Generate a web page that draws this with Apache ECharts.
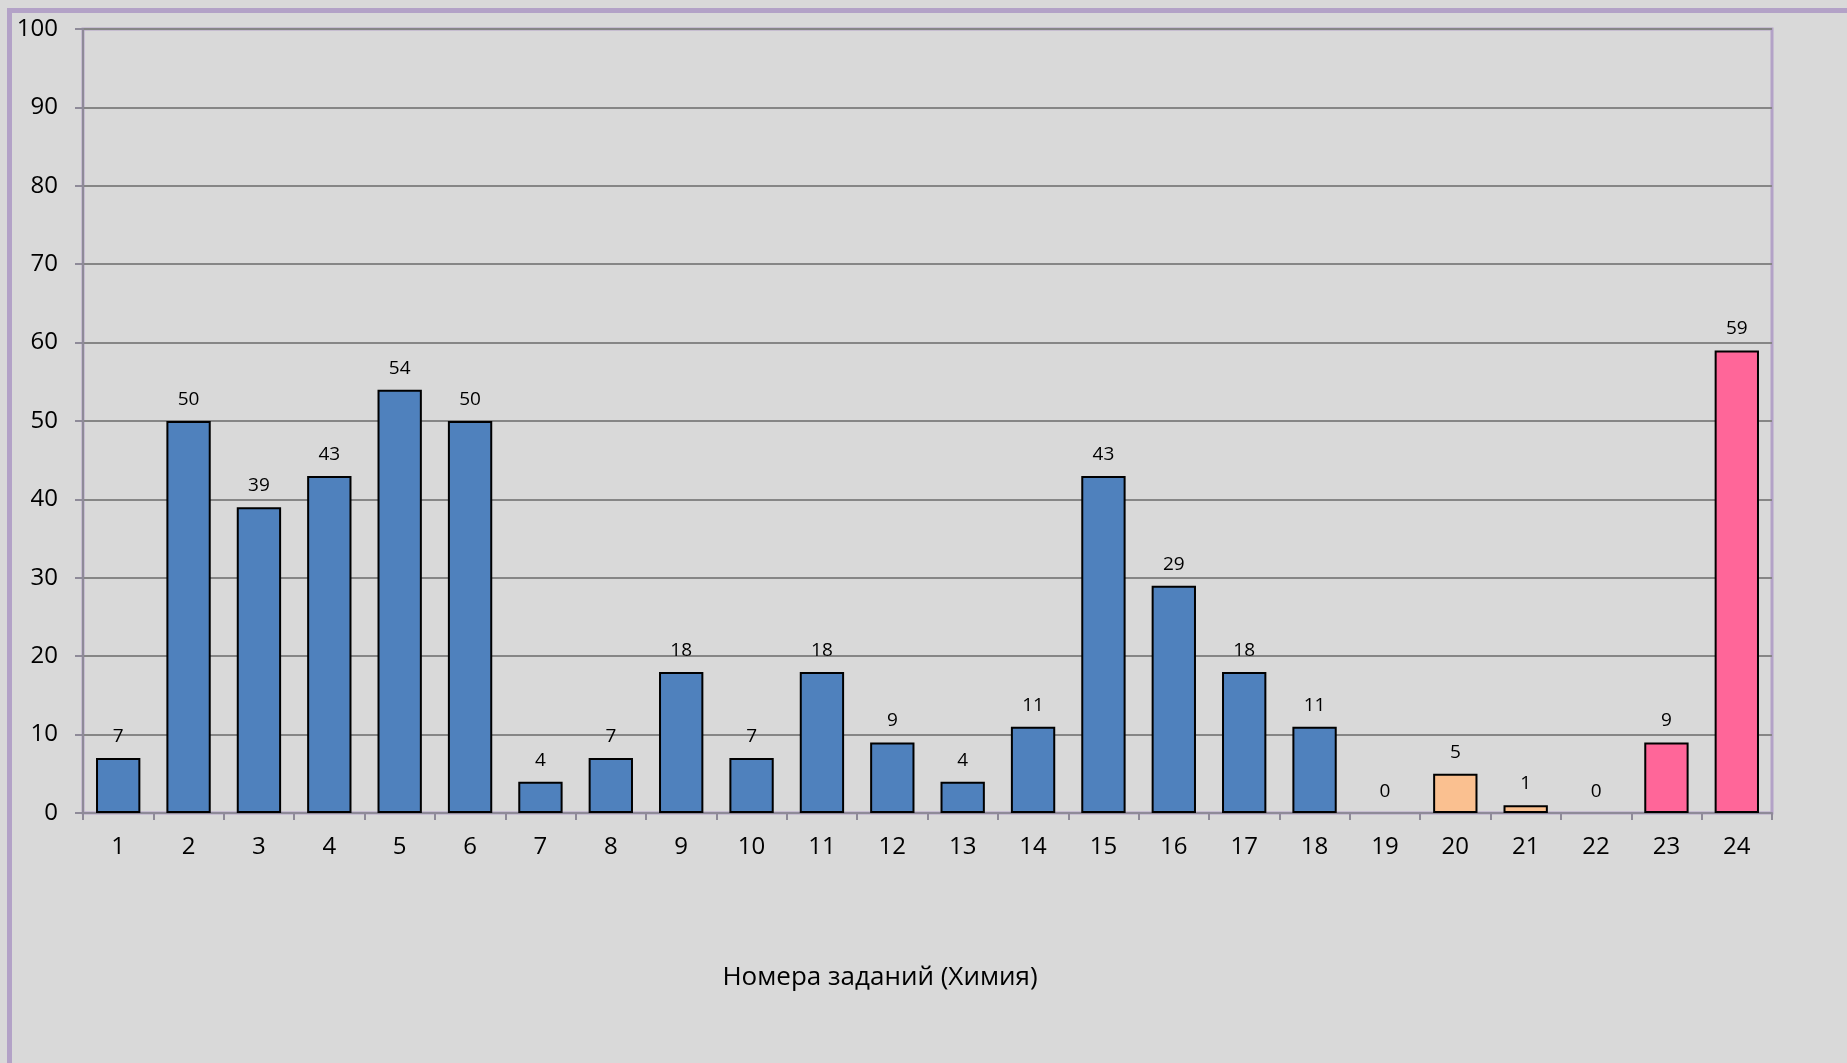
<!DOCTYPE html>
<html>
<head>
<meta charset="utf-8">
<script src="https://cdn.jsdelivr.net/npm/echarts@6/dist/echarts.min.js"></script>
<style>
  html, body { margin: 0; padding: 0; background: #D9D9D9; }
  #chart { width: 1847px; height: 1063px; }
</style>
</head>
<body>
<div id="chart"></div>
<script>
// Task numbers along the x axis
const tasks = ['1','2','3','4','5','6','7','8','9','10','11','12','13','14','15','16','17','18','19','20','21','22','23','24'];
// Share of correct answers per task, %
const scores = [7, 50, 39, 43, 54, 50, 4, 7, 18, 7, 18, 9, 4, 11, 43, 29, 18, 11, 0, 5, 1, 0, 9, 59];
// Difficulty level of each task
const levels = ['basic','basic','basic','basic','basic','basic','basic','basic','basic','basic','basic','basic','basic','basic','basic','basic','basic','basic','advanced','advanced','advanced','advanced','high','high'];
const yTicks = [0, 10, 20, 30, 40, 50, 60, 70, 80, 90, 100];
const axisTitle = 'Номера заданий (Химия)';

const levelColors = { basic: '#4F81BD', advanced: '#FAC090', high: '#FF6699' };
const font = '"Open Sans", "Noto Sans", sans-serif';

const chart = echarts.init(document.getElementById('chart'), null, { renderer: 'canvas' });

chart.setOption({
  backgroundColor: '#D9D9D9',
  animation: false,
  graphic: [
    // outer frame: top and left edges
    { type: 'rect', left: 7, top: 8, shape: { width: 1840, height: 5 }, style: { fill: '#B3A2C7' }, z: 10 },
    { type: 'rect', left: 7, top: 8, shape: { width: 5, height: 1055 }, style: { fill: '#B3A2C7' }, z: 10 },
    // horizontal axis title
    {
      type: 'text', x: 880, y: 978, z: 10,
      style: { text: axisTitle, font: '26px ' + font, fill: '#000', align: 'center', verticalAlign: 'middle' }
    }
  ],
  grid: {
    left: 83, top: 29, right: 75, bottom: 250,
    show: true, borderColor: '#B3A2C7', borderWidth: 3, backgroundColor: 'transparent'
  },
  xAxis: {
    type: 'category',
    data: tasks,
    axisLine: { lineStyle: { color: '#8E8A98', width: 2 } },
    axisTick: { show: true, length: 7, lineStyle: { color: '#8E8A98', width: 2 } },
    axisLabel: { fontFamily: font, fontSize: 24, color: '#000', margin: 22 }
  },
  yAxis: {
    type: 'value',
    min: yTicks[0],
    max: yTicks[yTicks.length - 1],
    interval: yTicks[1] - yTicks[0],
    axisLine: { show: true, lineStyle: { color: '#8E8A98', width: 2 } },
    axisTick: { show: true, length: 8, lineStyle: { color: '#8E8A98', width: 2 } },
    axisLabel: { fontFamily: font, fontSize: 24, color: '#000', margin: 25 },
    splitLine: { lineStyle: { color: '#868686', width: 2 } }
  },
  series: [{
    type: 'bar',
    data: scores.map((v, i) => ({
      value: v,
      itemStyle: { color: levelColors[levels[i]], borderWidth: v === 0 ? 0 : 2 }
    })),
    barCategoryGap: '37%',
    itemStyle: { borderColor: '#000', borderWidth: 2 },
    label: {
      show: true,
      position: 'top',
      distance: 12,
      fontFamily: font,
      fontSize: 19,
      color: '#000'
    }
  }]
});
</script>
</body>
</html>
